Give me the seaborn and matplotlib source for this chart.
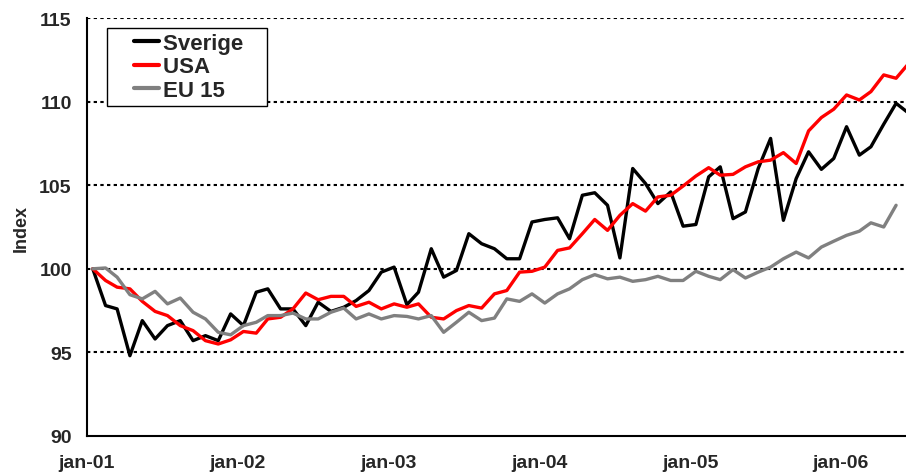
import numpy as np
import pandas as pd
import seaborn as sns
import matplotlib.pyplot as plt
from matplotlib.legend_handler import HandlerLine2D

#-- Monthly index values, jan-01 = 100 --#
months = pd.date_range("2001-01-01", periods=66, freq="MS") + pd.Timedelta(days=14)

sverige = [100.0, 97.8, 97.6, 94.8, 96.9, 95.8, 96.6, 96.9, 95.7, 96.0, 95.7, 97.3,
           96.6, 98.6, 98.8, 97.6, 97.6, 96.6, 98.0, 97.45, 97.7, 98.1, 98.7, 99.8,
           100.1, 97.85, 98.6, 101.2, 99.5, 99.9, 102.1, 101.5, 101.2, 100.6, 100.6, 102.8,
           102.95, 103.05, 101.8, 104.4, 104.55, 103.8, 100.65, 106.0, 105.1, 103.9, 104.6, 102.55,
           102.65, 105.5, 106.1, 103.0, 103.4, 106.0, 107.8, 102.9, 105.4, 107.0, 105.95, 106.6,
           108.5, 106.8, 107.3, 108.65, 109.9, 109.3]

usa = [100.0, 99.3, 98.9, 98.8, 98.05, 97.45, 97.2, 96.6, 96.3, 95.7, 95.5, 95.75,
       96.25, 96.15, 97.0, 97.1, 97.6, 98.55, 98.15, 98.35, 98.35, 97.75, 98.0, 97.6,
       97.9, 97.7, 97.9, 97.1, 97.0, 97.5, 97.8, 97.65, 98.5, 98.7, 99.8, 99.85,
       100.1, 101.1, 101.25, 102.1, 102.95, 102.3, 103.2, 103.9, 103.45, 104.3, 104.4, 104.95,
       105.55, 106.05, 105.6, 105.65, 106.1, 106.4, 106.5, 106.95, 106.3, 108.25, 109.05, 109.55,
       110.4, 110.1, 110.6, 111.6, 111.4, 112.3]

eu15 = [100.0, 100.05, 99.5, 98.45, 98.2, 98.65, 97.9, 98.25, 97.4, 97.0, 96.2, 96.05,
        96.6, 96.8, 97.2, 97.2, 97.35, 97.0, 97.0, 97.4, 97.65, 97.0, 97.3, 97.0,
        97.2, 97.15, 97.0, 97.2, 96.2, 96.8, 97.4, 96.9, 97.05, 98.2, 98.05, 98.5,
        97.95, 98.5, 98.8, 99.35, 99.65, 99.4, 99.5, 99.25, 99.35, 99.55, 99.3, 99.3,
        99.85, 99.55, 99.35, 99.95, 99.45, 99.8, 100.1, 100.6, 101.0, 100.65, 101.3, 101.65,
        102.0, 102.25, 102.75, 102.5, 103.8, np.nan]

series_names = ["Sverige", "USA", "EU 15"]
series_colors = ["#000000", "#FF0000", "#808080"]
tick_years = [2001, 2002, 2003, 2004, 2005, 2006]
tick_labels = ["jan-01", "jan-02", "jan-03", "jan-04", "jan-05", "jan-06"]

df = pd.DataFrame({"month": months, "Sverige": sverige, "USA": usa, "EU 15": eu15})
long_df = df.melt(id_vars="month", var_name="serie", value_name="index").dropna()

#-- Plot --#
sns.set_style("white")
plt.rcParams["font.family"] = ["Liberation Sans", "DejaVu Sans"]
plt.rcParams["font.weight"] = "bold"

fig = plt.figure(figsize=(9.06, 4.77), dpi=100)
ax = fig.add_axes([0.096, 0.084, 0.904, 0.876])

# dotted grid, no line at 90 (the axis is there)
for y in [95, 100, 105, 110, 115]:
    ax.axhline(y, color="black", linewidth=1.5, linestyle=(0, (1.6, 1.6)), zorder=0)

sns.lineplot(data=long_df, x="month", y="index", hue="serie", hue_order=series_names,
             palette=dict(zip(series_names, series_colors)), linewidth=2.4, ax=ax)

ax.set_ylim(90, 115)
ax.set_yticks([90, 95, 100, 105, 110, 115])
ax.set_xlim(pd.Timestamp("2001-01-01"), pd.Timestamp("2006-06-08"))
ax.set_xticks([pd.Timestamp(f"{y}-01-01") for y in tick_years])
ax.set_xticklabels(tick_labels)

ax.set_xlabel("")
ax.set_ylabel("Index", fontsize=13, fontweight="bold", labelpad=7)
ax.tick_params(axis="both", labelsize=14, direction="out", length=5, width=1,
               color="black", pad=6)
ax.tick_params(axis="x", pad=8)
for lbl in ax.get_xticklabels() + ax.get_yticklabels():
    lbl.set_fontweight("bold")

sns.despine(ax=ax, top=True, right=True)
for side in ["left", "bottom"]:
    ax.spines[side].set_color("black")
    ax.spines[side].set_linewidth(1.5)

#-- Legend, Excel style box --#
handles, labels = ax.get_legend_handles_labels()
leg = ax.legend(handles, [l + "   " for l in labels],
                loc="upper left", bbox_to_anchor=(0.024, 0.977), borderaxespad=0,
                fontsize=16, frameon=True, fancybox=False, handlelength=2.1,
                handletextpad=0.2, labelspacing=0.1, borderpad=0.25,
                handler_map={h: HandlerLine2D(xpad=1.0) for h in handles})
leg.get_frame().set_edgecolor("black")
leg.get_frame().set_linewidth(1.0)
leg.get_frame().set_alpha(1)
for t in leg.get_texts():
    t.set_fontweight("bold")
for h in leg.get_lines():
    h.set_linewidth(3)

fig.savefig("out.png", dpi=100)
